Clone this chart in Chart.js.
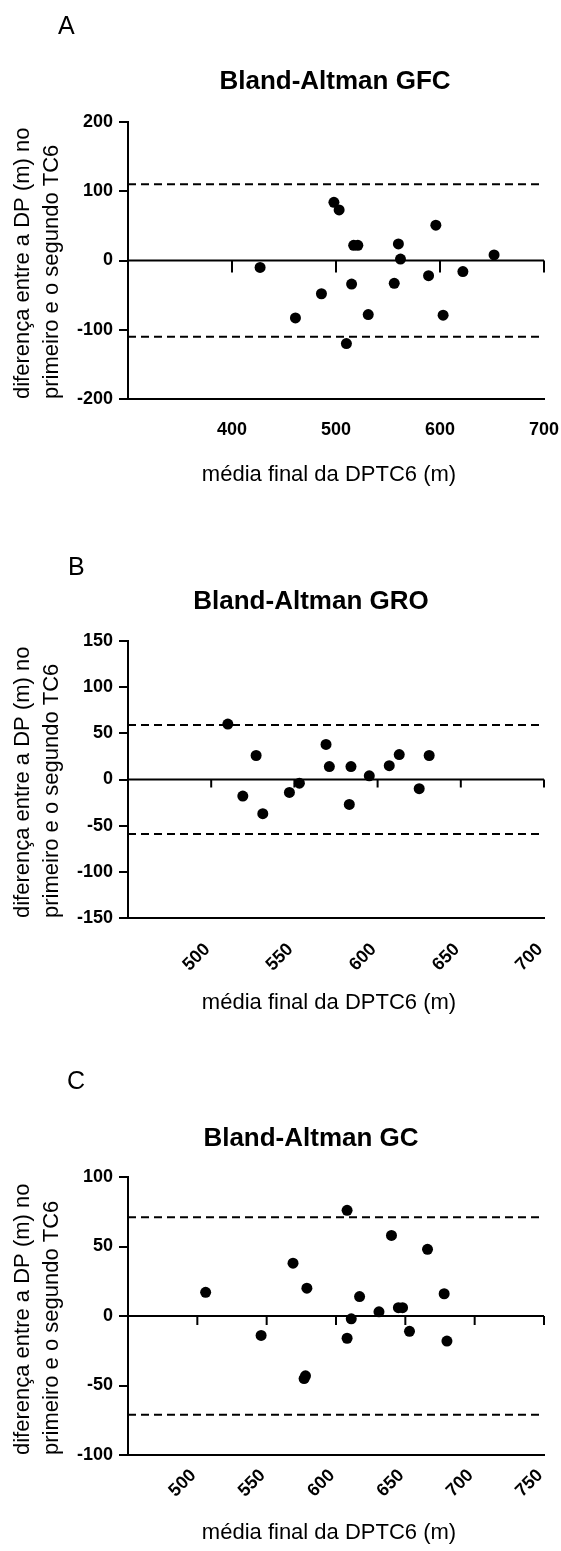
<!DOCTYPE html>
<html>
<head>
<meta charset="utf-8">
<script src="https://cdn.jsdelivr.net/npm/chart.js@4.4.1/dist/chart.umd.min.js"></script>
<style>
  body { margin: 0; background: #fff; }
  canvas.panel { position: absolute; left: 0; }
</style>
</head>
<body>
<canvas id="chartA" class="panel" width="561" height="510" style="top:0px"></canvas>
<canvas id="chartB" class="panel" width="561" height="530" style="top:510px"></canvas>
<canvas id="chartC" class="panel" width="561" height="511" style="top:1040px"></canvas>
<script>
const FONT = "'Liberation Sans', Arial, Helvetica, sans-serif";

const yAxisTitle = ['diferença entre a DP (m) no', 'primeiro e o segundo TC6'];
const xAxisTitle = 'média final da DPTC6 (m)';

// A - GFC
const gfcMedia = [427, 461, 486, 498, 503, 510, 515, 517, 521, 531, 556, 560, 562, 589, 596, 603, 622, 652];
const gfcDiff  = [-10, -83, -48, 84, 73, -120, -34, 22, 22, -78, -33, 24, 2, -22, 51, -79, -16, 8];
const gfcLimit = 110;
const gfcXTicks = [400, 500, 600, 700];
const gfcYTicks = [-200, -100, 0, 100, 200];

// B - GRO
const groMedia = [510, 519, 527, 531, 547, 553, 569, 571, 584, 583, 595, 607, 613, 625, 631];
const groDiff  = [60, -18, 26, -37, -14, -4, 38, 14, 14, -27, 4, 15, 27, -10, 26];
const groLimit = 59;
const groXTicks = [500, 550, 600, 650, 700];
const groYTicks = [-150, -100, -50, 0, 50, 100, 150];

// C - GC
const gcMedia = [506, 546, 569, 579, 577, 578, 608, 608, 611, 617, 631, 640, 645, 648, 653, 666, 678, 680];
const gcDiff  = [17, -14, 38, 20, -45, -43, 76, -16, -2, 14, 3, 58, 6, 6, -11, 48, 16, -18];
const gcLimit = 71;
const gcXTicks = [500, 550, 600, 650, 700, 750];
const gcYTicks = [-100, -50, 0, 50, 100];

// letra, titulo, titulo do eixo x e os tracinhos na linha do zero
const panelText = {
  id: 'panelText',
  afterDraw(chart, args, o) {
    const ctx = chart.ctx;
    ctx.save();
    ctx.fillStyle = '#000';
    ctx.textBaseline = 'alphabetic';
    ctx.textAlign = 'left';
    ctx.font = '25px ' + FONT;
    ctx.fillText(o.letter, o.letterX, o.letterY);
    ctx.textAlign = 'center';
    ctx.font = 'bold 26px ' + FONT;
    ctx.fillText(o.title, o.titleX, o.titleY);
    ctx.font = '22px ' + FONT;
    ctx.fillText(xAxisTitle, o.xTitleX, o.xTitleY);

    const xs = chart.scales.x;
    const y0 = chart.scales.y.getPixelForValue(0);
    ctx.strokeStyle = '#000';
    ctx.lineWidth = 2;
    xs.ticks.forEach(t => {
      const px = xs.getPixelForValue(t.value);
      ctx.beginPath();
      ctx.moveTo(px, y0);
      ctx.lineTo(px, y0 + o.zeroTick);
      ctx.stroke();
    });
    ctx.restore();
  }
};

function refLine(xMin, xMax, y, dashed) {
  return {
    type: 'line',
    data: [{x: xMin, y: y}, {x: xMax, y: y}],
    borderColor: '#000',
    borderWidth: 2,
    borderDash: dashed ? [8, 5] : [],
    pointRadius: 0,
    fill: false
  };
}

function makePanel(id, p) {
  const canvas = document.getElementById(id);
  const H = canvas.height;
  const points = p.media.map((m, i) => ({x: m, y: p.diff[i]}));

  new Chart(canvas, {
    type: 'scatter',
    data: {
      datasets: [
        {
          data: points,
          backgroundColor: '#000',
          borderWidth: 0,
          pointRadius: 5.5,
          pointHoverRadius: 5.5
        },
        refLine(p.xMin, p.xMax, p.limit, true),
        refLine(p.xMin, p.xMax, -p.limit, true),
        refLine(p.xMin, p.xMax, 0, false)
      ]
    },
    options: {
      responsive: false,
      animation: false,
      events: [],
      layout: { padding: { top: p.chartTop, right: 17, bottom: 0, left: 0 } },
      plugins: {
        legend: { display: false },
        tooltip: { enabled: false },
        panelText: p.text
      },
      scales: {
        x: {
          type: 'linear',
          min: p.xMin,
          max: p.xMax,
          afterBuildTicks: s => { s.ticks = p.xTicks.map(v => ({value: v})); },
          afterFit: s => {
            s.height = H - p.chartBottom;
            s.paddingLeft = 0;
            s.paddingRight = 0;
          },
          grid: { display: false, drawTicks: false },
          border: { display: true, color: '#000', width: 2 },
          ticks: {
            color: '#000',
            font: { family: FONT, size: 18, weight: 'bold' },
            padding: p.xTickPad,
            labelOffset: p.rot ? -4 : 0,
            minRotation: p.rot,
            maxRotation: p.rot,
            autoSkip: false
          }
        },
        y: {
          type: 'linear',
          min: p.yTicks[0],
          max: p.yTicks[p.yTicks.length - 1],
          afterBuildTicks: s => { s.ticks = p.yTicks.map(v => ({value: v})); },
          afterFit: s => { s.width = 128; },
          grid: {
            drawOnChartArea: false,
            drawTicks: true,
            tickLength: 9,
            color: '#000',
            lineWidth: 2
          },
          border: { display: true, color: '#000', width: 2 },
          ticks: {
            color: '#000',
            font: { family: FONT, size: 18, weight: 'bold' },
            padding: 6
          },
          title: {
            display: true,
            text: yAxisTitle,
            align: 'start',
            color: '#000',
            font: { family: FONT, size: 22, lineHeight: 1.34 },
            padding: { top: 7.75, bottom: 0 }
          }
        }
      }
    },
    plugins: [panelText]
  });
}

makePanel('chartA', {
  media: gfcMedia, diff: gfcDiff, limit: gfcLimit,
  xTicks: gfcXTicks, yTicks: gfcYTicks, xMin: 300, xMax: 700,
  chartTop: 122, chartBottom: 399, xTickPad: 20, rot: 0,
  text: { letter: 'A', letterX: 58, letterY: 34, title: 'Bland-Altman GFC', titleX: 335, titleY: 89,
          xTitleX: 329, xTitleY: 480.5, zeroTick: 12 }
});

makePanel('chartB', {
  media: groMedia, diff: groDiff, limit: groLimit,
  xTicks: groXTicks, yTicks: groYTicks, xMin: 450, xMax: 700,
  chartTop: 131, chartBottom: 408, xTickPad: 21, rot: 45,
  text: { letter: 'B', letterX: 68, letterY: 65, title: 'Bland-Altman GRO', titleX: 311, titleY: 99,
          xTitleX: 329, xTitleY: 498.7, zeroTick: 8 }
});

makePanel('chartC', {
  media: gcMedia, diff: gcDiff, limit: gcLimit,
  xTicks: gcXTicks, yTicks: gcYTicks, xMin: 450, xMax: 750,
  chartTop: 137, chartBottom: 415, xTickPad: 10, rot: 45,
  text: { letter: 'C', letterX: 67, letterY: 49, title: 'Bland-Altman GC', titleX: 311, titleY: 106,
          xTitleX: 329, xTitleY: 498.7, zeroTick: 9 }
});
</script>
</body>
</html>
